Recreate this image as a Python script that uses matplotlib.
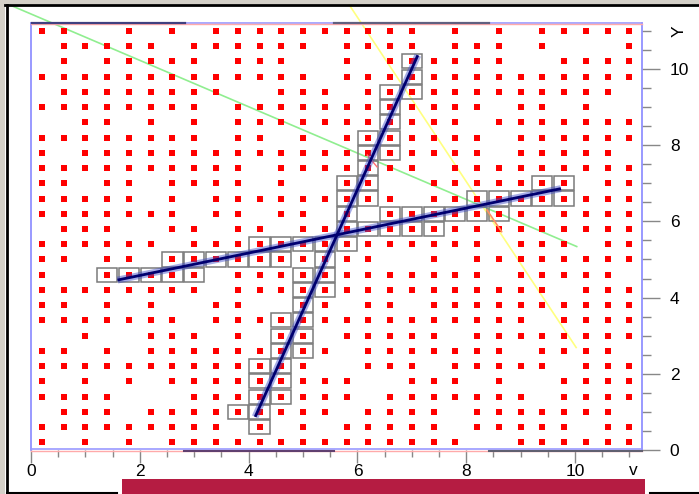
import matplotlib
matplotlib.use("Agg")
import matplotlib.pyplot as plt
from matplotlib.patches import Rectangle
from matplotlib.lines import Line2D

plt.rcParams['font.family'] = ['Liberation Sans', 'DejaVu Sans']

W, H = 699, 494

# hit grid (0.4 pitch), '#' = hit present
grid_x = [0.2, 0.6, 1.0, 1.4, 1.8, 2.2, 2.6, 3.0, 3.4, 3.8, 4.2, 4.6, 5.0, 5.4,
          5.8, 6.2, 6.6, 7.0, 7.4, 7.8, 8.2, 8.6, 9.0, 9.4, 9.8, 10.2, 10.6, 11.0]
grid_y = [11.0, 10.6, 10.2, 9.8, 9.4, 9.0, 8.6, 8.2, 7.8, 7.4, 7.0, 6.6, 6.2, 5.8,
          5.4, 5.0, 4.6, 4.2, 3.8, 3.4, 3.0, 2.6, 2.2, 1.8, 1.4, 1.0, 0.6, 0.2]
hit_rows = [
    "##..#.#.######" + "####.#.#.#####",
    ".#####.######." + "####.###.#...#",
    ".#.#####.###.." + "#.######..####",
    "#############." + "##############",
    ".########..###" + ".############.",
    "########.#####" + "#######.##.#..",
    "..##.#.#.#####" + "######.#######",
    "########.##.#." + "#######.######",
    "#.############" + "#######.#####.",
    "##########.###" + "####.#########",
    "##.##.####.#.." + "##..#######.##",
    "#####.#.######" + "###.##########",
    "#######.##.##." + "#.############",
    ".###..##.##.##" + "##############",
    "######.#######" + "#######.###.##",
    "##.##.########" + "##..#.########",
    "#..#####.#####" + "#######.#####.",
    "########.#####" + "##########.###",
    "##.#.#..##..##" + ".##.##########",
    "#######.######" + "#########.####",
    "..#..###.#.##." + "#####.########",
    "##.#.#########" + ".#######.####.",
    "#############." + ".###.#####.###",
    "#.#.#.########" + "#..###.#..####",
    "####...#######" + "#.#######.####",
    ".###.#########" + ".####.#######.",
    "#########.#.#." + "#####.#####.##",
    "#.#.#.########" + "######..######",
]

# cells picked up along the two tracks
box_x = [7.0, 7.0, 6.6, 7.0, 6.6, 6.6, 6.2, 6.6, 6.2, 6.6, 6.2, 5.8, 6.2, 5.8, 6.2,
         5.8, 5.8, 5.8, 5.4, 5.4, 5.0, 5.4, 5.0, 5.4, 5.0, 4.6, 5.0, 4.6, 5.0, 4.6,
         5.0, 4.2, 4.6, 4.2, 4.6, 4.2, 4.6, 3.8, 4.2, 4.2,
         1.4, 1.8, 2.2, 2.6, 3.0, 2.6, 3.0, 3.4, 3.8, 4.2, 4.6, 4.2, 4.6, 5.0,
         6.2, 6.6, 7.0, 7.4, 6.6, 7.0, 7.4, 7.8, 8.2, 8.6, 8.2, 8.6, 9.0, 9.4,
         9.8, 9.4, 9.8]
box_y = [10.2, 9.8, 9.4, 9.4, 9.0, 8.6, 8.2, 8.2, 7.8, 7.8, 7.4, 7.0, 7.0, 6.6, 6.6,
         6.2, 5.8, 5.4, 5.4, 5.0, 4.6, 4.6, 4.2, 4.2, 3.8, 3.4, 3.4, 3.0, 3.0, 2.6,
         2.6, 2.2, 2.2, 1.8, 1.8, 1.4, 1.4, 1.0, 1.0, 0.6,
         4.6, 4.6, 4.6, 4.6, 4.6, 5.0, 5.0, 5.0, 5.0, 5.0, 5.0, 5.4, 5.4, 5.4,
         5.8, 5.8, 5.8, 5.8, 6.2, 6.2, 6.2, 6.2, 6.2, 6.2, 6.6, 6.6, 6.6, 6.6,
         6.6, 7.0, 7.0]
box_size = 0.37

# fitted tracks
track_a_x = [4.12, 7.11]
track_a_y = [0.87, 10.36]
track_b_x = [1.59, 9.74]
track_b_y = [4.46, 6.86]

# road lines
green_x = [-0.39, 10.03]
green_y = [11.68, 5.34]
yellow_x = [5.85, 10.02]
yellow_y = [11.68, 2.69]

fig = plt.figure(figsize=(W / 100, H / 100), dpi=100)
fig.patch.set_facecolor('white')


def px_rect(x0, y0, x1, y1, color, z=5):
    fig.patches.append(Rectangle((x0 / W, 1 - y1 / H), (x1 - x0) / W, (y1 - y0) / H,
                                 transform=fig.transFigure, facecolor=color,
                                 edgecolor='none', zorder=z))


def px_line(xs, ys, color, lw, z=6):
    fig.lines.append(Line2D([x / W for x in xs], [1 - y / H for y in ys],
                            transform=fig.transFigure, color=color, lw=lw, zorder=z))


ax = fig.add_axes([31 / W, 1 - 450 / H, 611 / W, 426 / H])
ax.set_xlim(0, 11.23)
ax.set_ylim(0, 11.18)

hx, hy = [], []
for j, row in enumerate(hit_rows):
    for i, c in enumerate(row):
        if c == '#':
            hx.append(grid_x[i])
            hy.append(grid_y[j])
ax.plot(hx, hy, 's', color='#ff0000', markersize=4.0, markeredgewidth=0, zorder=2)

for bx, by in zip(box_x, box_y):
    ax.add_patch(Rectangle((bx - box_size / 2, by - box_size / 2), box_size, box_size,
                           facecolor='none', edgecolor='#7a7a7a', lw=1.1, zorder=3))

ax.plot(green_x, green_y, color='#90ee90', lw=1.2, zorder=1, clip_on=False)
ax.plot(yellow_x, yellow_y, color='#ffff80', lw=1.2, zorder=1, clip_on=False)
ax.plot([6.18, 6.36], [7.74, 7.43], color='#ff7070', lw=1.0, zorder=4)
ax.plot([8.38, 8.65], [6.30, 5.73], color='#ff9060', lw=1.2, zorder=4)

for tx, ty in [(track_a_x, track_a_y), (track_b_x, track_b_y)]:
    ax.plot(tx, ty, color='#3a48c8', lw=5, alpha=0.45, zorder=4, solid_capstyle='butt')
    ax.plot(tx, ty, color='#000070', lw=2, zorder=5, solid_capstyle='butt')

for s in ax.spines.values():
    s.set_visible(False)

ax.set_xticks([0, 2, 4, 6, 8, 10])
ax.set_xticks([k * 0.5 for k in range(23)], minor=True)
ax.set_yticks([0, 2, 4, 6, 8, 10])
ax.set_yticks([k * 0.5 for k in range(23)], minor=True)
ax.yaxis.tick_right()
ax.tick_params(axis='x', which='major', length=9.4, width=1, color='#888888',
               pad=0.5, labelsize=12.5)
ax.tick_params(axis='x', which='minor', length=4.8, width=1, color='#888888')
ax.tick_params(axis='y', which='major', length=13, width=1, color='#888888',
               pad=7, labelsize=12.5)
ax.tick_params(axis='y', which='minor', length=6.5, width=1, color='#888888')

# frame
px_line([31, 31], [23, 450], '#8888ff', 1.2)
px_line([642, 642], [23, 450], '#8888ff', 1.2)
px_line([31, 642], [22.7, 22.7], '#9999ff', 1.2)
px_line([31, 642], [24.4, 24.4], '#ffaaaa', 1.0)
px_line([32, 185], [22.7, 22.7], '#404080', 1.6, 7)
px_line([334, 489], [22.7, 22.7], '#606080', 1.6, 7)
px_line([31, 642], [449, 449], '#9999ff', 1.2)
px_line([31, 642], [450.7, 450.7], '#ffaaaa', 1.0)
px_line([184, 334], [450.5, 450.5], '#604070', 1.5, 7)
px_line([489, 642], [450.5, 450.5], '#606070', 1.5, 7)

# axis titles
fig.text(633 / W, 1 - 475 / H, 'v', ha='center', va='baseline', fontsize=12.5, zorder=3)
fig.text(679 / W, 1 - 31 / H, 'Y', ha='center', va='center', fontsize=12.5,
         rotation=90, zorder=3)

# window chrome
px_rect(0, 0, W, 4, '#d4d0c8')
px_rect(0, 0, 5, H, '#d4d0c8')
px_line([5, W], [5, 5], '#000000', 2.0)
px_line([6.5, 6.5], [5, H], '#000000', 2.0)
px_line([7, 117], [493, 493], '#000000', 1.5)
px_line([650, W], [493, 493], '#000000', 1.5)
px_rect(122, 479, 645, H, '#b51c42', 8)

fig.savefig('out.png', dpi=100)
